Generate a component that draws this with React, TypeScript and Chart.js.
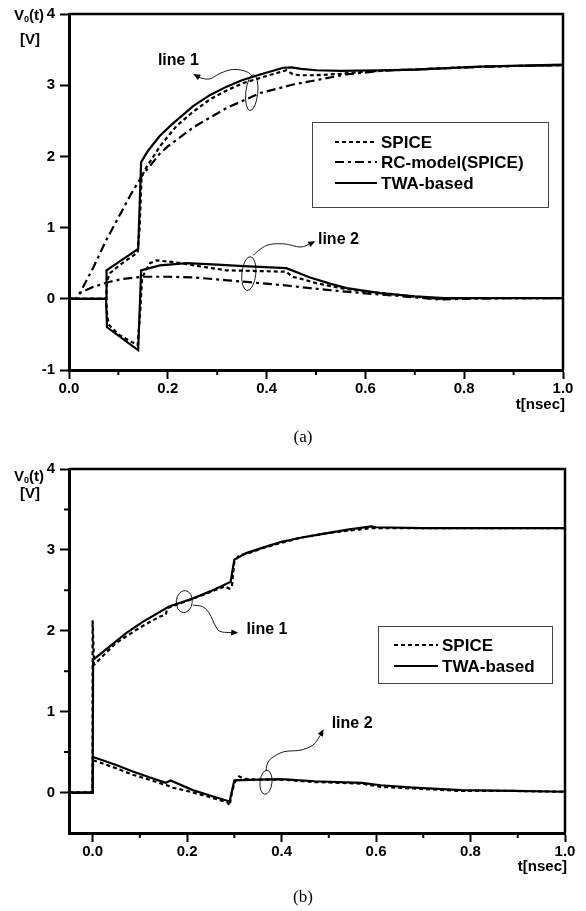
import React, { useEffect, useRef } from "react";
import { Chart, registerables } from "chart.js";
Chart.register(...registerables);

type P = [number, number];

// ---------------- (a) data: t [nsec], V [V] ----------------
const A_SPICE_LINE1: P[] = [[0,0],[0.075,0],[0.077,0.25],[0.083,0.36],[0.1,0.46],[0.12,0.56],[0.139,0.65],[0.143,1.0],[0.147,1.72],[0.157,1.85],[0.185,2.15],[0.218,2.43],[0.25,2.62],[0.285,2.8],[0.32,2.93],[0.353,3.03],[0.4,3.13],[0.44,3.21],[0.454,3.15],[0.47,3.14],[0.5,3.14],[0.55,3.16],[0.6,3.19],[0.65,3.21],[0.7,3.22],[0.8,3.25],[0.9,3.27],[1.0,3.28]];
const A_RC_LINE1: P[] = [[0,0],[0.015,0],[0.022,0.08],[0.05,0.45],[0.075,0.82],[0.1,1.14],[0.123,1.44],[0.147,1.72],[0.184,2.04],[0.2,2.14],[0.252,2.41],[0.319,2.68],[0.387,2.89],[0.454,3.01],[0.5,3.07],[0.56,3.15],[0.63,3.2],[0.7,3.22],[0.8,3.25],[0.9,3.27],[1.0,3.28]];
const A_TWA_LINE1: P[] = [[0,0],[0.075,0],[0.076,0.4],[0.14,0.7],[0.146,1.92],[0.16,2.08],[0.184,2.29],[0.21,2.46],[0.252,2.71],[0.285,2.86],[0.319,2.98],[0.35,3.07],[0.387,3.15],[0.434,3.245],[0.45,3.25],[0.47,3.23],[0.5,3.21],[0.55,3.2],[0.63,3.21],[0.7,3.22],[0.83,3.26],[1.0,3.29]];
const A_SPICE_LINE2: P[] = [[0,0],[0.075,0],[0.077,-0.2],[0.08,-0.36],[0.1,-0.5],[0.12,-0.58],[0.139,-0.65],[0.144,-0.2],[0.148,0.3],[0.164,0.5],[0.177,0.54],[0.218,0.51],[0.27,0.45],[0.319,0.4],[0.38,0.39],[0.44,0.38],[0.452,0.31],[0.47,0.28],[0.5,0.22],[0.55,0.15],[0.6,0.1],[0.65,0.07],[0.7,0.03],[0.75,0.0],[0.8,0.01],[1.0,0.01]];
const A_RC_LINE2: P[] = [[0,0],[0.015,0],[0.022,0.08],[0.05,0.17],[0.083,0.24],[0.11,0.28],[0.15,0.31],[0.2,0.31],[0.252,0.3],[0.32,0.26],[0.387,0.22],[0.45,0.18],[0.488,0.15],[0.53,0.12],[0.56,0.1],[0.63,0.06],[0.7,0.02],[0.75,-0.01],[0.8,0.0],[0.9,0.01],[1.0,0.01]];
const A_TWA_LINE2: P[] = [[0,0],[0.075,0],[0.077,-0.4],[0.14,-0.72],[0.146,0.4],[0.184,0.47],[0.238,0.5],[0.3,0.48],[0.353,0.46],[0.44,0.43],[0.488,0.3],[0.53,0.21],[0.562,0.15],[0.63,0.08],[0.7,0.035],[0.76,0.01],[0.85,0.01],[1.0,0.01]];

// ---------------- (b) data ----------------
const B_SPICE_LINE1: P[] = [[-0.05,0],[0,0],[0,2.13],[0.003,1.58],[0.02,1.68],[0.05,1.85],[0.1,2.04],[0.14,2.17],[0.155,2.2],[0.158,2.28],[0.2,2.37],[0.25,2.48],[0.28,2.55],[0.29,2.52],[0.295,2.55],[0.3,2.85],[0.31,2.93],[0.33,2.96],[0.37,3.04],[0.44,3.15],[0.5,3.21],[0.59,3.27],[0.6,3.27],[0.7,3.27],[1.0,3.27]];
const B_TWA_LINE1: P[] = [[-0.05,0],[0,0],[0.001,1.64],[0.035,1.8],[0.071,1.97],[0.106,2.11],[0.162,2.3],[0.212,2.4],[0.25,2.49],[0.29,2.6],[0.292,2.6],[0.3,2.88],[0.325,2.96],[0.367,3.04],[0.4,3.1],[0.44,3.15],[0.5,3.21],[0.54,3.25],[0.59,3.29],[0.6,3.28],[0.7,3.27],[1.0,3.27]];
const B_SPICE_LINE2: P[] = [[-0.05,0],[0,0],[0.001,0.4],[0.05,0.3],[0.085,0.22],[0.12,0.16],[0.162,0.08],[0.17,0.06],[0.2,0.02],[0.25,-0.06],[0.285,-0.12],[0.29,-0.16],[0.295,0.0],[0.3,0.12],[0.31,0.2],[0.32,0.17],[0.35,0.16],[0.4,0.16],[0.47,0.13],[0.57,0.11],[0.61,0.07],[0.68,0.05],[0.78,0.02],[0.89,0.02],[1.0,0.01]];
const B_TWA_LINE2: P[] = [[-0.05,0],[0,0],[0.001,0.44],[0.05,0.34],[0.085,0.26],[0.12,0.19],[0.155,0.12],[0.165,0.15],[0.212,0.03],[0.25,-0.04],[0.29,-0.11],[0.3,0.15],[0.35,0.16],[0.4,0.165],[0.47,0.14],[0.57,0.12],[0.61,0.09],[0.68,0.06],[0.78,0.03],[0.89,0.02],[1.0,0.01]];

// axis ranges / ticks
const A_X_RANGE: P = [0, 1];
const A_Y_RANGE: P = [-1, 4];
const B_X_RANGE: P = [-0.05, 1];
const B_Y_RANGE: P = [-0.5, 4];
const X_MINOR_TICKS = [0.1, 0.3, 0.5, 0.7, 0.9];
const B_Y_MINOR_TICKS = [0.5, 1.5, 2.5, 3.5];

const LEGEND_A = ["SPICE", "RC-model(SPICE)", "TWA-based"];
const LEGEND_B = ["SPICE", "TWA-based"];
const Y_TITLE = ["V", "0", "(t)"];
const Y_UNIT = "[V]";
const X_TITLE = "t[nsec]";

const DASH_SPICE = [4, 3];
const DASH_RC = [9, 4, 3, 4];
const DASH_TWA: number[] = [];

const FONT = '"Liberation Sans", Arial, Helvetica, sans-serif';
const SERIF = '"Liberation Serif", "Times New Roman", serif';

type Ann = { text: string; textAt: P; path: P[]; loop: { c: P; rx: number; ry: number } };

const ANN_A: Ann[] = [
  { text: "line 1", textAt: [0.18, 3.35], path: [[0.372,3.116],[0.36,3.189],[0.333,3.222],[0.306,3.167],[0.285,3.088],[0.265,3.106],[0.255,3.144]], loop: { c: [0.37, 2.895], rx: 6, ry: 18 } },
  { text: "line 2", textAt: [0.504, 0.837], path: [[0.373,0.612],[0.4,0.75],[0.434,0.772],[0.468,0.727],[0.488,0.772],[0.495,0.796]], loop: { c: [0.364, 0.354], rx: 7, ry: 17 } },
];
const ANN_B: Ann[] = [
  { text: "line 1", textAt: [0.326, 2.009], path: [[0.212,2.318],[0.233,2.297],[0.247,2.215],[0.261,2.05],[0.272,1.988],[0.304,1.976]], loop: { c: [0.194, 2.361], rx: 8, ry: 11 } },
  { text: "line 2", textAt: [0.506, 0.857], path: [[0.367,0.276],[0.374,0.4],[0.403,0.502],[0.439,0.523],[0.466,0.585],[0.48,0.688],[0.487,0.762]], loop: { c: [0.367, 0.127], rx: 6, ry: 12 } },
];

type Deco = {
  legendNames: string[];
  legendDashes: number[][];
  legendBox: [number, number, number, number];
  legendRowsY: number[];
  legendLine: P;
  legendTextX: number;
  vTitleY: P;
  tTitleY: number;
  caption: string;
  captionY: number;
  yMinor: number[];
  anns: Ann[];
};

function smooth(ctx: CanvasRenderingContext2D, pts: { x: number; y: number }[]) {
  ctx.moveTo(pts[0].x, pts[0].y);
  for (let i = 0; i < pts.length - 1; i++) {
    const p0 = pts[i - 1] || pts[i], p1 = pts[i], p2 = pts[i + 1], p3 = pts[i + 2] || p2;
    ctx.bezierCurveTo(p1.x + (p2.x - p0.x) / 6, p1.y + (p2.y - p0.y) / 6, p2.x - (p3.x - p1.x) / 6, p2.y - (p3.y - p1.y) / 6, p2.x, p2.y);
  }
}

function decoPlugin(d: Deco) {
  return {
    id: "deco",
    afterDatasetsDraw(chart: any) {
      const ctx: CanvasRenderingContext2D = chart.ctx;
      const xs = chart.scales.x, ys = chart.scales.y;
      const a = chart.chartArea;
      const px = (p: P) => ({ x: xs.getPixelForValue(p[0]), y: ys.getPixelForValue(p[1]) });
      ctx.save();
      // frame top/right
      ctx.strokeStyle = "#000";
      ctx.lineWidth = 2.5;
      ctx.beginPath();
      ctx.moveTo(a.left, a.top);
      ctx.lineTo(a.right, a.top);
      ctx.lineTo(a.right, a.bottom);
      ctx.stroke();
      // minor ticks
      ctx.lineWidth = 2;
      ctx.beginPath();
      X_MINOR_TICKS.forEach((v) => {
        const x = xs.getPixelForValue(v);
        ctx.moveTo(x, a.bottom);
        ctx.lineTo(x, a.bottom + 5);
      });
      d.yMinor.forEach((v) => {
        const y = ys.getPixelForValue(v);
        ctx.moveTo(a.left, y);
        ctx.lineTo(a.left - 5, y);
      });
      ctx.stroke();
      // legend
      const [bx0, by0, bx1, by1] = d.legendBox;
      ctx.fillStyle = "#fff";
      ctx.fillRect(bx0, by0, bx1 - bx0, by1 - by0);
      ctx.strokeStyle = "#444";
      ctx.lineWidth = 1;
      ctx.strokeRect(bx0 + 0.5, by0 + 0.5, bx1 - bx0, by1 - by0);
      ctx.strokeStyle = "#000";
      ctx.fillStyle = "#000";
      ctx.font = `bold 17px ${FONT}`;
      ctx.textBaseline = "middle";
      ctx.textAlign = "left";
      d.legendNames.forEach((name, i) => {
        const y = d.legendRowsY[i];
        ctx.lineWidth = 2;
        ctx.setLineDash(d.legendDashes[i]);
        ctx.beginPath();
        ctx.moveTo(d.legendLine[0], y);
        ctx.lineTo(d.legendLine[1], y);
        ctx.stroke();
        ctx.setLineDash([]);
        ctx.fillText(name, d.legendTextX, y + 1);
      });
      // annotations
      d.anns.forEach((an) => {
        const pts = an.path.map(px);
        ctx.lineWidth = 0.9;
        ctx.beginPath();
        smooth(ctx, pts);
        ctx.stroke();
        const c = px(an.loop.c);
        ctx.beginPath();
        ctx.ellipse(c.x, c.y, an.loop.rx, an.loop.ry, 0.1, 0, Math.PI * 2);
        ctx.stroke();
        const tip = pts[pts.length - 1], prev = pts[pts.length - 2];
        const ang = Math.atan2(tip.y - prev.y, tip.x - prev.x);
        ctx.beginPath();
        ctx.moveTo(tip.x + Math.cos(ang) * 2, tip.y + Math.sin(ang) * 2);
        ctx.lineTo(tip.x - Math.cos(ang) * 5 + Math.sin(ang) * 3, tip.y - Math.sin(ang) * 5 - Math.cos(ang) * 3);
        ctx.lineTo(tip.x - Math.cos(ang) * 5 - Math.sin(ang) * 3, tip.y - Math.sin(ang) * 5 + Math.cos(ang) * 3);
        ctx.closePath();
        ctx.fill();
        const t = px(an.textAt);
        ctx.font = `bold 16px ${FONT}`;
        ctx.textAlign = "left";
        ctx.textBaseline = "middle";
        ctx.fillText(an.text, t.x, t.y);
      });
      // axis titles
      ctx.font = `bold 15px ${FONT}`;
      ctx.textBaseline = "middle";
      ctx.textAlign = "left";
      let x = 14;
      ctx.fillText(Y_TITLE[0], x, d.vTitleY[0]);
      x += ctx.measureText(Y_TITLE[0]).width;
      ctx.font = `bold 9px ${FONT}`;
      ctx.fillText(Y_TITLE[1], x, d.vTitleY[0] + 4);
      x += ctx.measureText(Y_TITLE[1]).width;
      ctx.font = `bold 15px ${FONT}`;
      ctx.fillText(Y_TITLE[2], x, d.vTitleY[0]);
      ctx.fillText(Y_UNIT, 20, d.vTitleY[1]);
      ctx.textAlign = "right";
      ctx.fillText(X_TITLE, a.right + 2, d.tTitleY);
      ctx.font = `17px ${SERIF}`;
      ctx.textAlign = "center";
      ctx.fillText(d.caption, 303, d.captionY);
      ctx.restore();
    },
  };
}

function buildDatasets(series: P[][], dashes: number[][]) {
  return series.map((s, i) => ({
    data: s.map(([x, y]) => ({ x, y })),
    borderColor: "#000",
    borderWidth: 2.2,
    borderDash: dashes[i],
    pointRadius: 0,
    fill: false,
    tension: 0,
  }));
}

type PanelProps = {
  top: number;
  height: number;
  series: P[][];
  dashes: number[][];
  xRange: P;
  yRange: P;
  padding: { top: number; right: number };
  xHeight: number;
  deco: Deco;
};

function Panel(props: PanelProps) {
  const ref = useRef<HTMLCanvasElement>(null);
  useEffect(() => {
    const tickFont = { family: FONT, size: 15, weight: "bold" as const };
    const chart = new Chart(ref.current!, {
      type: "line",
      data: { datasets: buildDatasets(props.series, props.dashes) as any },
      options: {
        responsive: false,
        animation: false,
        events: [],
        layout: { padding: { left: 0, top: props.padding.top, right: props.padding.right, bottom: 0 } },
        plugins: { legend: { display: false }, tooltip: { enabled: false } },
        scales: {
          x: {
            type: "linear",
            min: props.xRange[0],
            max: props.xRange[1],
            ticks: {
              stepSize: 0.2,
              includeBounds: false,
              autoSkip: false,
              maxRotation: 0,
              padding: 1,
              color: "#000",
              font: tickFont,
              callback: (v: any) => Number(v).toFixed(1),
            },
            grid: { drawOnChartArea: false, drawTicks: true, tickLength: 9, tickWidth: 2, tickColor: "#000" },
            border: { display: true, color: "#000", width: 3 },
            afterFit: (s: any) => {
              s.height = props.xHeight;
            },
          },
          y: {
            type: "linear",
            min: props.yRange[0],
            max: props.yRange[1],
            ticks: {
              stepSize: 1,
              includeBounds: false,
              padding: 5,
              color: "#000",
              font: tickFont,
              callback: (v: any) => String(Math.round(Number(v))),
            },
            grid: { drawOnChartArea: false, drawTicks: true, tickLength: 9, tickWidth: 2, tickColor: "#000" },
            border: { display: true, color: "#000", width: 3 },
            afterFit: (s: any) => {
              s.width = 69;
            },
          },
        },
      } as any,
      plugins: [decoPlugin(props.deco)],
    });
    return () => chart.destroy();
  }, []);
  return (
    <canvas
      ref={ref}
      width={586}
      height={props.height}
      style={{ position: "absolute", left: 0, top: props.top, width: 586, height: props.height }}
    />
  );
}

export default function App() {
  return (
    <div style={{ position: "absolute", left: 0, top: 0, width: 586, height: 911, background: "#fff" }}>
      <Panel
        top={0}
        height={455}
        series={[A_SPICE_LINE1, A_RC_LINE1, A_TWA_LINE1, A_SPICE_LINE2, A_RC_LINE2, A_TWA_LINE2]}
        dashes={[DASH_SPICE, DASH_RC, DASH_TWA, DASH_SPICE, DASH_RC, DASH_TWA]}
        xRange={A_X_RANGE}
        yRange={A_Y_RANGE}
        padding={{ top: 8, right: 23 }}
        xHeight={85}
        deco={{
          legendNames: LEGEND_A,
          legendDashes: [DASH_SPICE, DASH_RC, DASH_TWA],
          legendBox: [312, 122, 548, 207],
          legendRowsY: [142, 162, 183],
          legendLine: [335, 377],
          legendTextX: 381,
          vTitleY: [16, 40],
          tTitleY: 405,
          caption: "(a)",
          captionY: 438,
          yMinor: [],
          anns: ANN_A,
        }}
      />
      <Panel
        top={455}
        height={456}
        series={[B_SPICE_LINE1, B_TWA_LINE1, B_SPICE_LINE2, B_TWA_LINE2]}
        dashes={[DASH_SPICE, DASH_TWA, DASH_SPICE, DASH_TWA]}
        xRange={B_X_RANGE}
        yRange={B_Y_RANGE}
        padding={{ top: 14, right: 21 }}
        xHeight={78}
        deco={{
          legendNames: LEGEND_B,
          legendDashes: [DASH_SPICE, DASH_TWA],
          legendBox: [378, 171, 552, 228],
          legendRowsY: [190, 211],
          legendLine: [394, 438],
          legendTextX: 442,
          vTitleY: [22, 39],
          tTitleY: 412,
          caption: "(b)",
          captionY: 443,
          yMinor: B_Y_MINOR_TICKS,
          anns: ANN_B,
        }}
      />
    </div>
  );
}
